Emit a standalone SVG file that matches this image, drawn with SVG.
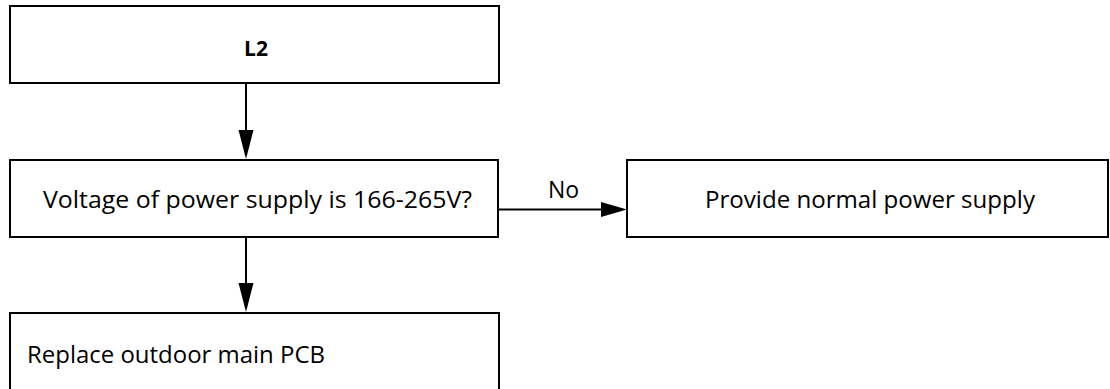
<svg xmlns="http://www.w3.org/2000/svg" width="1110" height="389" viewBox="0 0 1110 389">
<defs>
<style>
.box{fill:#fff;stroke:#000;stroke-width:2}
.t{font-family:"Open Sans","Noto Sans",sans-serif;font-size:24px;fill:#000}
.b{font-weight:bold;font-size:21px}
.c{stroke:#000;stroke-width:2;fill:none}
.h{fill:#000}
</style>
</defs>
<rect width="1110" height="389" fill="#fff"/>
<g id="connectors">
<line class="c" x1="246" y1="83" x2="246" y2="132"/>
<path class="h" d="M238.5,130 L253.5,130 L246,159 Z"/>
<line class="c" x1="246" y1="238" x2="246" y2="285"/>
<path class="h" d="M238.5,283 L253.5,283 L246,312 Z"/>
<line class="c" x1="499" y1="209.5" x2="605" y2="209.5"/>
<path class="h" d="M601,202 L627,209.5 L601,217 Z"/>
<text class="t" x="548" y="198" style="font-size:23px">No</text>
</g>
<g id="n1">
<rect class="box" x="10" y="6" width="489" height="77"/>
<text class="t b" x="256" y="56" text-anchor="middle">L2</text>
</g>
<g id="n2">
<rect class="box" x="10" y="160" width="488" height="77"/>
<text class="t" x="43" y="208" textLength="429" lengthAdjust="spacingAndGlyphs">Voltage of power supply is 166-265V?</text>
</g>
<g id="n3">
<rect class="box" x="627" y="160" width="481" height="77"/>
<text class="t" x="705" y="208" textLength="330" lengthAdjust="spacingAndGlyphs">Provide normal power supply</text>
</g>
<g id="n4">
<rect class="box" x="10" y="313" width="489" height="80"/>
<text class="t" x="27" y="363" textLength="298" lengthAdjust="spacingAndGlyphs">Replace outdoor main PCB</text>
</g>
</svg>
